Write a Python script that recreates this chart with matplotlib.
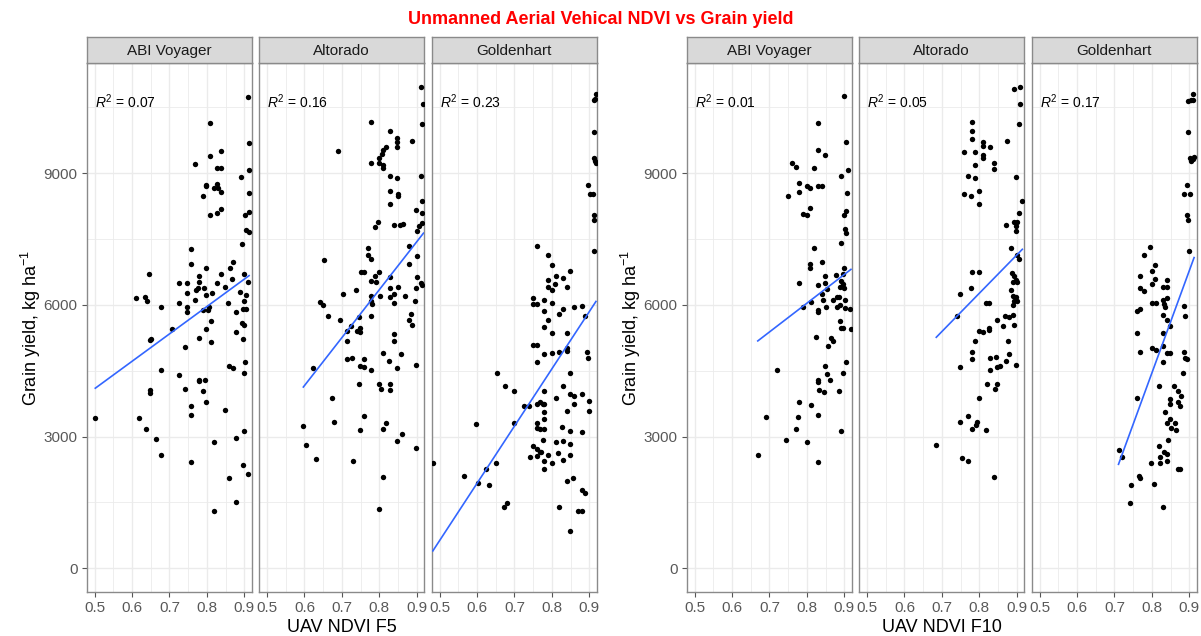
import numpy as np
import matplotlib
matplotlib.use("Agg")
import matplotlib.pyplot as plt
from matplotlib.ticker import FixedLocator

plt.rcParams['font.family'] = ['Liberation Sans', 'DejaVu Sans']
plt.rcParams['mathtext.fontset'] = 'custom'
plt.rcParams['mathtext.rm'] = 'Liberation Sans'
plt.rcParams['mathtext.it'] = 'Liberation Sans:italic'

# ---- data: NDVI (x) vs grain yield (y, kg/ha) per cultivar ----
varieties = ["ABI Voyager", "Altorado", "Goldenhart"]
flights = ["UAV NDVI F5", "UAV NDVI F10"]
r2_f5 = ["0.07", "0.16", "0.23"]
r2_f10 = ["0.01", "0.05", "0.17"]

f5_abi_x = [0.909, 0.808, 0.912, 0.838, 0.808, 0.769, 0.827, 0.838, 0.913, 0.891, 0.799, 0.799, 0.827, 0.820,
            0.829, 0.789, 0.838, 0.913, 0.838, 0.827, 0.808, 0.903, 0.913, 0.905, 0.912, 0.893, 0.759, 0.869,
            0.759, 0.863, 0.798, 0.645, 0.838, 0.900, 0.867, 0.780, 0.727, 0.748, 0.778, 0.909, 0.792, 0.776,
            0.771, 0.828, 0.849, 0.612, 0.636, 0.639, 0.748, 0.798, 0.814, 0.890, 0.905, 0.677, 0.727, 0.769,
            0.748, 0.748, 0.789, 0.802, 0.807, 0.857, 0.878, 0.900, 0.896, 0.905, 0.811, 0.893, 0.900, 0.798,
            0.708, 0.878, 0.897, 0.652, 0.649, 0.779, 0.811, 0.741, 0.858, 0.869, 0.903, 0.900, 0.678, 0.727,
            0.778, 0.778, 0.794, 0.743, 0.789, 0.649, 0.649, 0.798, 0.759, 0.759, 0.848, 0.502, 0.619, 0.637,
            0.900, 0.663, 0.878, 0.818, 0.678, 0.759, 0.897, 0.909, 0.858, 0.878, 0.818]
f5_abi_y = [10730, 10140, 9700, 9510, 9400, 9210, 9130, 9120, 9080, 8910, 8740, 8700, 8760, 8660,
            8660, 8490, 8570, 8550, 8180, 8090, 8040, 8040, 8120, 7710, 7660, 7390, 7280, 6990,
            6930, 6840, 6840, 6710, 6700, 6700, 6580, 6650, 6490, 6490, 6520, 6530, 6390, 6380,
            6340, 6490, 6400, 6150, 6190, 6100, 6270, 6230, 6280, 6300, 6220, 5960, 6050, 6110,
            5960, 5850, 5880, 5880, 5950, 6040, 5850, 6100, 5910, 5910, 5640, 5580, 5540, 5450,
            5450, 5380, 5220, 5220, 5200, 5250, 5160, 5050, 4610, 4570, 4690, 4460, 4520, 4410,
            4300, 4270, 4290, 4090, 4030, 4060, 4000, 3790, 3700, 3490, 3600, 3430, 3430, 3170,
            3130, 2940, 2980, 2870, 2570, 2420, 2360, 2140, 2050, 1500, 1310]

f5_alt_x = [0.912, 0.918, 0.915, 0.778, 0.829, 0.848, 0.848, 0.848, 0.887, 0.819, 0.809, 0.807, 0.689, 0.800,
            0.798, 0.809, 0.811, 0.778, 0.912, 0.829, 0.848, 0.829, 0.851, 0.851, 0.915, 0.899, 0.913, 0.829,
            0.796, 0.789, 0.840, 0.856, 0.864, 0.907, 0.915, 0.902, 0.880, 0.769, 0.769, 0.778, 0.651, 0.880,
            0.902, 0.751, 0.760, 0.800, 0.789, 0.778, 0.791, 0.829, 0.902, 0.912, 0.915, 0.737, 0.829, 0.849,
            0.897, 0.704, 0.778, 0.802, 0.829, 0.840, 0.869, 0.778, 0.780, 0.840, 0.896, 0.642, 0.649, 0.664,
            0.696, 0.746, 0.778, 0.880, 0.885, 0.887, 0.725, 0.715, 0.740, 0.749, 0.749, 0.715, 0.840, 0.840,
            0.809, 0.857, 0.715, 0.728, 0.760, 0.749, 0.760, 0.778, 0.827, 0.848, 0.899, 0.622, 0.746, 0.800,
            0.805, 0.829, 0.829, 0.673, 0.597, 0.680, 0.760, 0.749, 0.817, 0.809, 0.860, 0.848, 0.899, 0.605,
            0.632, 0.729, 0.809, 0.798]
f5_alt_y = [10960, 10590, 10120, 10160, 9970, 9810, 9710, 9610, 9740, 9610, 9520, 9440, 9500, 9340,
            9240, 9200, 9120, 9230, 8930, 8940, 8900, 8590, 8530, 8480, 8360, 8170, 8090, 8300,
            7900, 7780, 7830, 7830, 7840, 7800, 7870, 7680, 7350, 7290, 7140, 7040, 7020, 6930,
            7120, 6740, 6740, 6740, 6660, 6550, 6530, 6630, 6630, 6500, 6450, 6350, 6390, 6410,
            6390, 6250, 6210, 6200, 6190, 6250, 6210, 6100, 6030, 6040, 6100, 6060, 5990, 5740,
            5660, 5720, 5740, 5660, 5800, 5550, 5530, 5410, 5410, 5480, 5390, 5170, 5330, 5190,
            4910, 4880, 4760, 4800, 4780, 4620, 4580, 4520, 4720, 4560, 4630, 4560, 4200, 4210,
            4090, 4190, 4070, 3880, 3240, 3340, 3480, 3150, 3320, 3170, 3070, 2890, 2750, 2810,
            2500, 2440, 2070, 1360]

f5_gold_x = [0.918, 0.912, 0.915, 0.913, 0.912, 0.915, 0.918, 0.898, 0.903, 0.909, 0.913, 0.913, 0.913, 0.760,
             0.791, 0.800, 0.849, 0.811, 0.831, 0.791, 0.809, 0.791, 0.800, 0.840, 0.751, 0.751, 0.760, 0.780,
             0.800, 0.860, 0.880, 0.780, 0.831, 0.820, 0.791, 0.888, 0.780, 0.800, 0.840, 0.751, 0.760, 0.780,
             0.800, 0.820, 0.840, 0.840, 0.894, 0.896, 0.760, 0.849, 0.653, 0.675, 0.698, 0.831, 0.780, 0.849,
             0.858, 0.880, 0.811, 0.900, 0.760, 0.769, 0.776, 0.780, 0.727, 0.738, 0.860, 0.780, 0.840, 0.900,
             0.780, 0.598, 0.698, 0.760, 0.760, 0.769, 0.780, 0.827, 0.849, 0.880, 0.776, 0.811, 0.831, 0.849,
             0.751, 0.760, 0.769, 0.771, 0.743, 0.760, 0.791, 0.816, 0.849, 0.780, 0.800, 0.831, 0.482, 0.651,
             0.623, 0.780, 0.565, 0.602, 0.631, 0.840, 0.856, 0.880, 0.890, 0.680, 0.672, 0.820, 0.871, 0.880,
             0.849]
f5_gold_y = [10810, 10660, 10700, 9950, 9340, 9280, 9240, 8730, 8530, 8530, 8060, 7940, 7240, 7340,
             7140, 6910, 6780, 6650, 6610, 6570, 6470, 6410, 6330, 6410, 6150, 6030, 6020, 6110,
             6040, 5960, 5980, 5860, 5900, 5800, 5660, 5740, 5490, 5350, 5360, 5090, 5090, 4890,
             4910, 4930, 5010, 4960, 4930, 4790, 4700, 4460, 4440, 4150, 4050, 4150, 4050, 3960,
             3930, 3970, 3870, 3820, 3750, 3800, 3750, 3740, 3700, 3700, 3750, 3560, 3580, 3580,
             3410, 3280, 3300, 3300, 3190, 3170, 3170, 3230, 3130, 3110, 2930, 2870, 2910, 2830,
             2790, 2710, 2640, 2650, 2540, 2560, 2580, 2620, 2580, 2440, 2400, 2460, 2400, 2400,
             2270, 2270, 2100, 1940, 1890, 1990, 2050, 1790, 1710, 1480, 1390, 1390, 1310, 1300,
             840]

f10_abi_x = [0.899, 0.829, 0.904, 0.829, 0.848, 0.760, 0.770, 0.820, 0.911, 0.892, 0.780, 0.780, 0.800, 0.808,
             0.829, 0.840, 0.908, 0.749, 0.808, 0.791, 0.800, 0.906, 0.899, 0.902, 0.904, 0.892, 0.820, 0.808,
             0.808, 0.840, 0.899, 0.780, 0.829, 0.848, 0.848, 0.877, 0.896, 0.892, 0.896, 0.853, 0.840, 0.843,
             0.888, 0.899, 0.886, 0.881, 0.871, 0.902, 0.810, 0.791, 0.829, 0.829, 0.851, 0.881, 0.890, 0.902,
             0.915, 0.888, 0.892, 0.897, 0.918, 0.824, 0.864, 0.871, 0.857, 0.904, 0.848, 0.721, 0.853, 0.863,
             0.897, 0.829, 0.829, 0.833, 0.846, 0.886, 0.780, 0.810, 0.691, 0.777, 0.829, 0.771, 0.892, 0.744,
             0.800, 0.669, 0.829]
f10_abi_y = [10750, 10150, 9710, 9530, 9410, 9230, 9140, 9110, 9080, 8930, 8770, 8580, 8710, 8670,
             8710, 8710, 8560, 8490, 8200, 8080, 8040, 8140, 8040, 7720, 7650, 7410, 7290, 6940,
             6840, 6980, 6840, 6500, 6450, 6660, 6500, 6690, 6710, 6550, 6470, 6370, 6240, 6120,
             6410, 6380, 6190, 6170, 6120, 6110, 6070, 5950, 5880, 5840, 5960, 5960, 6000, 5920,
             5900, 5640, 5480, 5480, 5450, 5260, 5250, 5190, 5070, 4700, 4620, 4520, 4430, 4290,
             4460, 4300, 4250, 4070, 4010, 4040, 3800, 3710, 3440, 3440, 3500, 3170, 3130, 2930,
             2870, 2570, 2420]

f10_alt_x = [0.894, 0.909, 0.909, 0.906, 0.780, 0.780, 0.780, 0.874, 0.809, 0.809, 0.829, 0.760, 0.789, 0.809,
             0.809, 0.789, 0.840, 0.840, 0.898, 0.769, 0.789, 0.760, 0.778, 0.800, 0.800, 0.915, 0.907, 0.872,
             0.893, 0.902, 0.897, 0.897, 0.884, 0.902, 0.907, 0.780, 0.800, 0.887, 0.894, 0.898, 0.891, 0.901,
             0.778, 0.749, 0.884, 0.890, 0.898, 0.894, 0.902, 0.890, 0.818, 0.827, 0.740, 0.869, 0.880, 0.889,
             0.848, 0.864, 0.894, 0.800, 0.809, 0.827, 0.827, 0.789, 0.876, 0.780, 0.780, 0.880, 0.829, 0.844,
             0.872, 0.897, 0.749, 0.829, 0.848, 0.856, 0.820, 0.847, 0.842, 0.800, 0.749, 0.769, 0.780, 0.792,
             0.795, 0.819, 0.685, 0.753, 0.769, 0.840]
f10_alt_y = [10930, 10970, 10590, 10120, 10170, 9970, 9790, 9740, 9710, 9620, 9610, 9490, 9490, 9410,
             9340, 9180, 9240, 9100, 8920, 8940, 8900, 8530, 8490, 8590, 8300, 8370, 8090, 7830,
             7890, 7880, 7790, 7680, 7290, 7130, 7040, 6740, 6740, 6730, 6660, 6570, 6530, 6520,
             6390, 6250, 6350, 6210, 6190, 6100, 6080, 6000, 6040, 6050, 5740, 5740, 5720, 5780,
             5660, 5520, 5550, 5400, 5390, 5430, 5480, 5190, 5170, 4920, 4760, 4890, 4790, 4810,
             4720, 4630, 4580, 4520, 4590, 4620, 4200, 4200, 4090, 3880, 3340, 3480, 3170, 3260,
             3330, 3150, 2810, 2510, 2450, 2080]

f10_gold_x = [0.909, 0.898, 0.904, 0.911, 0.897, 0.903, 0.906, 0.913, 0.911, 0.893, 0.887, 0.902, 0.893, 0.897,
              0.900, 0.795, 0.780, 0.809, 0.800, 0.809, 0.769, 0.840, 0.840, 0.831, 0.769, 0.780, 0.800, 0.800,
              0.811, 0.831, 0.840, 0.832, 0.836, 0.885, 0.760, 0.769, 0.831, 0.840, 0.889, 0.849, 0.760, 0.831,
              0.800, 0.811, 0.831, 0.840, 0.849, 0.769, 0.887, 0.889, 0.894, 0.831, 0.884, 0.820, 0.860, 0.871,
              0.878, 0.760, 0.849, 0.849, 0.871, 0.876, 0.836, 0.849, 0.840, 0.851, 0.861, 0.864, 0.844, 0.820,
              0.711, 0.720, 0.832, 0.840, 0.823, 0.823, 0.798, 0.840, 0.869, 0.876, 0.767, 0.769, 0.807, 0.744,
              0.742, 0.831]
f10_gold_y = [10810, 10640, 10670, 10670, 9950, 9340, 9270, 9360, 9320, 8730, 8530, 8530, 8060, 7940,
              7240, 7330, 7140, 6910, 6780, 6600, 6650, 6570, 6410, 6410, 6390, 6320, 6470, 6050,
              6050, 6120, 6150, 6020, 5950, 5980, 5860, 5900, 5780, 5660, 5740, 5510, 5360, 5360,
              5030, 4980, 5070, 4900, 4900, 4930, 4930, 4800, 4770, 4700, 4440, 4150, 4150, 4050,
              3930, 3880, 3850, 3740, 3790, 3700, 3560, 3410, 3300, 3200, 3300, 3150, 2930, 2790,
              2700, 2540, 2640, 2610, 2530, 2400, 2400, 2440, 2270, 2270, 2100, 2060, 1930, 1890,
              1480, 1390]

groups = [
    (flights[0], r2_f5, [(f5_abi_x, f5_abi_y), (f5_alt_x, f5_alt_y), (f5_gold_x, f5_gold_y)]),
    (flights[1], r2_f10, [(f10_abi_x, f10_abi_y), (f10_alt_x, f10_alt_y), (f10_gold_x, f10_gold_y)]),
]

# ---- layout (pixel geometry of the 1201x636 canvas) ----
W, H = 1201, 636
fig = plt.figure(figsize=(W / 100, H / 100), dpi=100)
fig.patch.set_facecolor("white")

border = "#8a8a8a"
grid_c = "#ebebeb"
tick_c = "#595959"
panel_w, gap = 165.0, 7.5
panel_top, panel_bot = 63.3, 592.3
strip_top = 37.3
group_left = [86.7, 686.7]


def frac(x0, y0, w, h):
    # pixel box (top-left origin) -> figure fraction rect
    return [x0 / W, 1 - (y0 + h) / H, w / W, h / H]


for g, (xlab, r2s, panels) in enumerate(groups):
    for i, (xs, ys) in enumerate(panels):
        left = group_left[g] + i * (panel_w + gap)
        ax = fig.add_axes(frac(left, panel_top, panel_w, panel_bot - panel_top))
        ax.set_xlim(0.479, 0.920)
        ax.set_ylim(-547, 11506)
        ax.xaxis.set_major_locator(FixedLocator([0.5, 0.6, 0.7, 0.8, 0.9]))
        ax.xaxis.set_minor_locator(FixedLocator([0.55, 0.65, 0.75, 0.85]))
        ax.yaxis.set_major_locator(FixedLocator([0, 3000, 6000, 9000]))
        ax.yaxis.set_minor_locator(FixedLocator([1500, 4500, 7500, 10500]))
        ax.grid(which="major", color=grid_c, linewidth=1.0)
        ax.grid(which="minor", color=grid_c, linewidth=0.6)
        ax.set_axisbelow(True)
        for s in ax.spines.values():
            s.set_color(border)
            s.set_linewidth(1.0)
        ax.tick_params(which="major", length=3.5, width=0.8, color="#555555",
                       labelsize=11, labelcolor=tick_c, pad=3)
        ax.tick_params(which="minor", length=0)
        ax.set_xticklabels(["0.5", "0.6", "0.7", "0.8", "0.9"])
        if i == 0:
            ax.set_yticklabels(["0", "3000", "6000", "9000"])
        else:
            ax.tick_params(axis="y", which="major", length=0, labelleft=False)

        ax.scatter(xs, ys, s=15, color="black", linewidths=0, zorder=3)
        coef = np.polyfit(xs, ys, 1)
        xl = np.array([min(xs), max(xs)])
        ax.plot(xl, np.polyval(coef, xl), color="#3366FF", linewidth=1.2, zorder=4)

        ax.text(0.501, 10630, r"$R^2$ = " + r2s[i], fontsize=10, ha="left", va="center",
                color="black", zorder=5)

        # facet strip
        sax = fig.add_axes(frac(left, strip_top, panel_w, panel_top - strip_top))
        sax.set_facecolor("#d9d9d9")
        sax.set_xticks([])
        sax.set_yticks([])
        for s in sax.spines.values():
            s.set_color(border)
            s.set_linewidth(1.0)
        sax.text(0.5, 0.47, varieties[i], transform=sax.transAxes, ha="center", va="center",
                 fontsize=11, color="#1a1a1a")

    gx = group_left[g] + (3 * panel_w + 2 * gap) / 2
    fig.text(gx / W, 1 - 619 / H, xlab, ha="center", va="top", fontsize=13, color="black")
    fig.text((group_left[g] - 56) / W, 1 - ((panel_top + panel_bot) / 2) / H,
             r"Grain yield, kg ha$^{-1}$", rotation=90, ha="center", va="center",
             fontsize=13, color="black")

fig.text(0.5, 1 - 19 / H, "Unmanned Aerial Vehical NDVI vs Grain yield", ha="center",
         va="center", fontsize=13, fontweight="bold", color="#FF0000")

fig.savefig("out.png", dpi=100, facecolor="white")
